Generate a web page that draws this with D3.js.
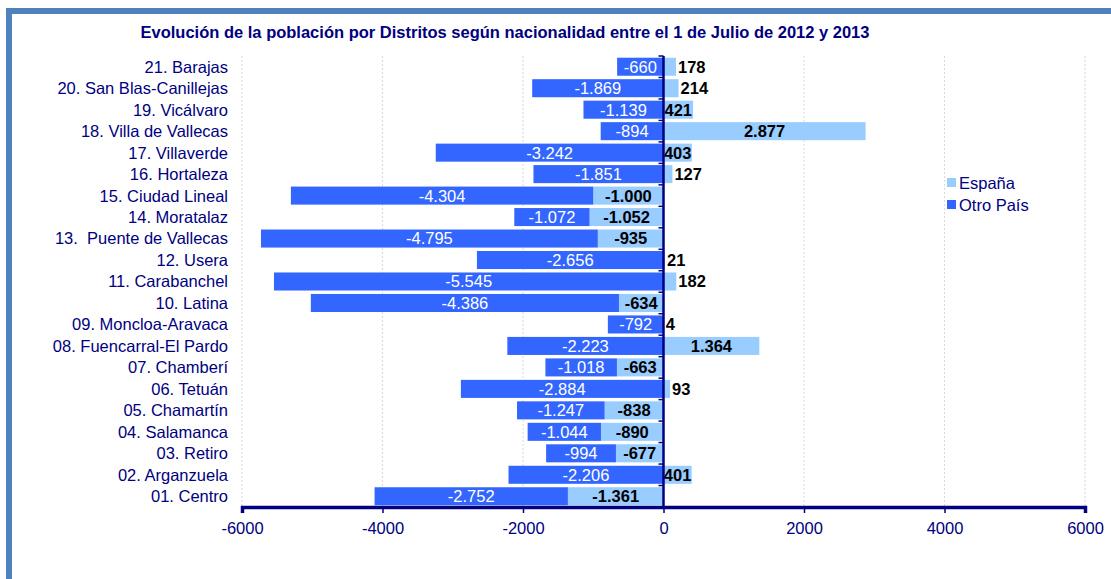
<!DOCTYPE html>
<html>
<head>
<meta charset="utf-8">
<script src="https://cdn.jsdelivr.net/npm/d3@7"></script>
<style>
  html, body { margin: 0; padding: 0; background: #fff; }
  svg { display: block; font-family: "Liberation Sans", Arial, sans-serif; }
</style>
</head>
<body>
<svg id="chart" width="1111" height="579"></svg>
<script>
const title = "Evolución de la población por Distritos según nacionalidad entre el 1 de Julio de 2012 y 2013";
const categories = [
  "01. Centro", "02. Arganzuela", "03. Retiro", "04. Salamanca", "05. Chamartín",
  "06. Tetuán", "07. Chamberí", "08. Fuencarral-El Pardo", "09. Moncloa-Aravaca",
  "10. Latina", "11. Carabanchel", "12. Usera", "13.  Puente de Vallecas",
  "14. Moratalaz", "15. Ciudad Lineal", "16. Hortaleza", "17. Villaverde",
  "18. Villa de Vallecas", "19. Vicálvaro", "20. San Blas-Canillejas", "21. Barajas"
];
const espana = [-1361, 401, -677, -890, -838, 93, -663, 1364, 4, -634, 182, 21, -935, -1052, -1000, 127, 403, 2877, 421, 214, 178];
const otroPais = [-2752, -2206, -994, -1044, -1247, -2884, -1018, -2223, -792, -4386, -5545, -2656, -4795, -1072, -4304, -1851, -3242, -894, -1139, -1869, -660];
const seriesNames = ["España", "Otro País"];
const xTicks = [-6000, -4000, -2000, 0, 2000, 4000, 6000];

const colors = { "España": "#99ccff", "Otro País": "#3366ff" };
const navy = "#000080";
const FS = 16.5;

const svg = d3.select("#chart");

// frame
svg.append("rect")
  .attr("x", 9).attr("y", 11).attr("width", 1200).attr("height", 700)
  .attr("fill", "none").attr("stroke", "#4f81bd").attr("stroke-width", 6);

// title
svg.append("text")
  .attr("x", 505).attr("y", 38)
  .attr("text-anchor", "middle")
  .attr("font-size", FS).attr("font-weight", "bold").attr("fill", navy)
  .text(title);

const plot = { left: 242, right: 1085, top: 56, bottom: 507 };

const x = d3.scaleLinear().domain([-6000, 6000]).range([plot.left, plot.right]);
const y = d3.scaleBand()
  .domain(categories.slice().reverse())
  .range([plot.top, plot.bottom])
  .paddingInner(0.16).paddingOuter(0.08);

// gridlines
svg.append("g").selectAll("line")
  .data(xTicks.filter(d => d !== 0))
  .join("line")
  .attr("x1", d => x(d)).attr("x2", d => x(d))
  .attr("y1", plot.top).attr("y2", plot.bottom)
  .attr("stroke", "#d9d9d9").attr("stroke-width", 1)
  .attr("stroke-dasharray", "2,2");

// stacked data
const rows = categories.map((c, i) => ({ cat: c, "España": espana[i], "Otro País": otroPais[i] }));
const stacked = d3.stack().keys(seriesNames).offset(d3.stackOffsetDiverging)(rows);

const loc = d3.formatLocale({ decimal: ",", thousands: ".", grouping: [3], currency: ["", "€"], minus: "-" });
const fmt = loc.format(",d");
const fmtTick = loc.format("d");

const barG = svg.append("g");
stacked.forEach(s => {
  barG.append("g").selectAll("rect")
    .data(s)
    .join("rect")
    .attr("x", d => x(Math.min(d[0], d[1])))
    .attr("y", d => y(d.data.cat))
    .attr("width", d => Math.abs(x(d[1]) - x(d[0])))
    .attr("height", y.bandwidth())
    .attr("fill", colors[s.key]);
});

// labels
const labG = svg.append("g").attr("font-size", FS);
stacked[1].forEach(d => {
  const v = d.data["Otro País"];
  labG.append("text")
    .attr("x", (x(d[0]) + x(d[1])) / 2)
    .attr("y", y(d.data.cat) + y.bandwidth() / 2)
    .attr("dy", "0.36em")
    .attr("text-anchor", "middle")
    .attr("fill", "#ffffff")
    .text(fmt(v));
});
stacked[0].forEach(d => {
  const v = d.data["España"];
  const t = labG.append("text")
    .attr("y", y(d.data.cat) + y.bandwidth() / 2)
    .attr("dy", "0.36em")
    .attr("font-weight", "bold")
    .attr("fill", "#000")
    .text(fmt(v));
  const w = t.node().getComputedTextLength();
  const bw = Math.abs(x(d[1]) - x(d[0]));
  if (v > 0 && w > bw + 4) {
    t.attr("x", x(d[1]) + 2).attr("text-anchor", "start");
  } else {
    t.attr("x", (x(d[0]) + x(d[1])) / 2).attr("text-anchor", "middle");
  }
});

// zero (category) axis
svg.append("line")
  .attr("x1", x(0)).attr("x2", x(0))
  .attr("y1", plot.top).attr("y2", plot.bottom)
  .attr("stroke", navy).attr("stroke-width", 2.5);
const boundaries = d3.range(categories.length + 1).map(i => plot.top + i * (plot.bottom - plot.top) / categories.length);
svg.append("g").selectAll("line")
  .data(boundaries)
  .join("line")
  .attr("x1", x(0) - 5).attr("x2", x(0))
  .attr("y1", d => d).attr("y2", d => d)
  .attr("stroke", navy).attr("stroke-width", 1.5);

// category labels
svg.append("g").selectAll("text")
  .data(categories)
  .join("text")
  .attr("x", 228)
  .attr("y", d => y(d) + y.bandwidth() / 2)
  .attr("dy", "0.36em")
  .attr("text-anchor", "end")
  .attr("font-size", FS)
  .attr("fill", navy)
  .attr("xml:space", "preserve")
  .style("white-space", "pre")
  .text(d => d);

// x axis
const xAxis = d3.axisBottom(x).tickValues(xTicks).tickFormat(fmtTick).tickSize(6).tickPadding(9);
const gx = svg.append("g").attr("transform", `translate(0,${plot.bottom})`).call(xAxis);
gx.select(".domain").attr("stroke", navy).attr("stroke-width", 3.5);
gx.selectAll(".tick line").attr("stroke", navy).attr("stroke-width", 1.5);
gx.selectAll(".tick text").attr("fill", navy).attr("font-size", FS).attr("font-family", "Liberation Sans, Arial, sans-serif");

// legend
const leg = svg.append("g").attr("transform", "translate(947,183)");
seriesNames.forEach((n, i) => {
  const g = leg.append("g").attr("transform", `translate(0,${i * 22})`);
  g.append("rect").attr("x", 0).attr("y", -5).attr("width", 9).attr("height", 9).attr("fill", colors[n]);
  g.append("text").attr("x", 12).attr("y", 0).attr("dy", "0.36em")
    .attr("font-size", FS).attr("fill", navy).text(n);
});
</script>
</body>
</html>
